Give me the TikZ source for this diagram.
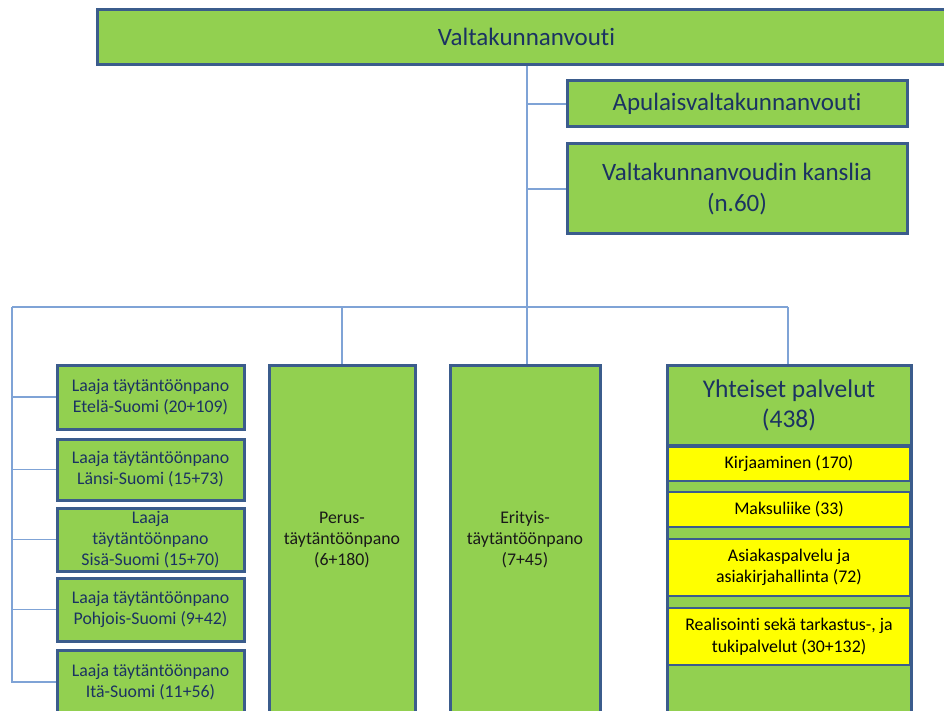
\documentclass[tikz,border=0pt]{standalone}
\usepackage{fontspec}
\setmainfont{Carlito}[Ligatures=NoCommon]
\definecolor{boxgreen}{HTML}{92D050}
\definecolor{boxyellow}{HTML}{FFFF00}
\definecolor{boxborder}{HTML}{3B5C8C}
\definecolor{navytext}{HTML}{1B3262}
\definecolor{linkblue}{HTML}{7FA3D6}
\begin{document}
\begin{tikzpicture}[x=1pt,y=-1pt,
  gbox/.style={draw=boxborder,line width=3pt,fill=boxgreen,rectangle,inner sep=0pt,align=center},
  ybox/.style={draw=boxborder,line width=2.5pt,fill=boxyellow,rectangle,inner sep=0pt,align=center,
     minimum width=242pt,font=\fontsize{17.8}{21.5}\selectfont,text=black},
  bigtext/.style={font=\fontsize{25}{31}\selectfont,text=navytext},
  smalltext/.style={font=\fontsize{17.8}{21}\selectfont,text=navytext},
  blacktext/.style={font=\fontsize{17.8}{21}\selectfont,text=black!90},
  link/.style={draw=linkblue,line width=1.6pt}]
\useasboundingbox (0,0) rectangle (944,711);
\clip (0,0) rectangle (944,711);
% top level
\node[gbox,bigtext,minimum width=859pt,minimum height=55pt] (top) at (526.5,37) {Valtakunnanvouti};
\node[gbox,bigtext,minimum width=340pt,minimum height=46pt] (apul) at (737,104) {Apulaisvaltakunnanvouti};
\node[gbox,bigtext,minimum width=340pt,minimum height=90pt] (kans) at (737,189) {Valtakunnanvoudin kanslia\\(n.60)};
% coordinates of the tree
\coordinate (J) at (527,307);
\coordinate (L) at (12,307);
\coordinate (R) at (788,307);
% left boxes
\node[gbox,smalltext,minimum width=187pt,minimum height=64pt] (b1) at (150.5,397) {Laaja täytäntöönpano\\Etelä-Suomi (20+109)};
\node[gbox,smalltext,minimum width=187pt,minimum height=61pt] (b2) at (150.5,469.5) {Laaja täytäntöönpano\\Länsi-Suomi (15+73)};
\node[gbox,smalltext,minimum width=187pt,minimum height=63pt] (b3) at (150.5,539.5) {Laaja\\täytäntöönpano\\Sisä-Suomi (15+70)};
\node[gbox,smalltext,minimum width=187pt,minimum height=63pt] (b4) at (150.5,609.5) {Laaja täytäntöönpano\\Pohjois-Suomi (9+42)};
\node[gbox,smalltext,minimum width=187pt,minimum height=64pt] (b5) at (150.5,682) {Laaja täytäntöönpano\\Itä-Suomi (11+56)};
% middle columns
\node[gbox,blacktext,minimum width=146pt,minimum height=350pt] (perus) at (342,540) {Perus-\\täytäntöönpano\\(6+180)};
\node[gbox,blacktext,minimum width=150pt,minimum height=350pt] (erit) at (525,540) {Erityis-\\täytäntöönpano\\(7+45)};
% common services
\node[gbox,minimum width=244pt,minimum height=350pt] (yht) at (789,540) {};
\node[gbox,bigtext,font=\fontsize{25.5}{30}\selectfont,minimum width=244pt,minimum height=80pt] (yhead) at (789,405) {Yhteiset palvelut\\(438)};
\node[ybox,minimum height=34pt] (y1) at (789,464) {Kirjaaminen (170)};
\node[ybox,minimum height=35pt] (y2) at (789,509.5) {Maksuliike (33)};
\node[ybox,minimum height=57pt] (y3) at (789,567.5) {Asiakaspalvelu ja\\asiakirjahallinta (72)};
\node[ybox,minimum height=57pt] (y4) at (789,636.5) {Realisointi sekä tarkastus-, ja\\tukipalvelut (30+132)};
% connectors
\path[link] (J |- top.south) -- (J);
\path[link] (apul.west) -- (apul.west -| J);
\path[link] (kans.west) -- (kans.west -| J);
\path[link] (L) -- (R);
\path[link] (R) -- (R |- yht.north);
\path[link] (J) -- (J |- erit.north);
\path[link] (perus.north) -- (perus.north |- L);
\path[link] (L) |- (b5.west);
\path[link] (b1.west) -- (b1.west -| L);
\path[link] (b2.west) -- (b2.west -| L);
\path[link] (b3.west) -- (b3.west -| L);
\path[link] (b4.west) -- (b4.west -| L);
\end{tikzpicture}
\end{document}
